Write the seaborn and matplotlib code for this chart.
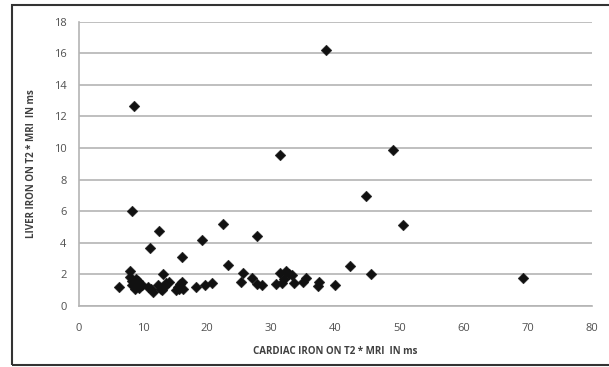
import pandas as pd
import seaborn as sns
import matplotlib
matplotlib.use('Agg')
import matplotlib.pyplot as plt
from matplotlib.patches import Rectangle

sns.set_theme(style='white')
plt.rcParams['font.family'] = ['Open Sans', 'DejaVu Sans']

cardiac = [6.3, 7.9, 8.0, 8.3, 8.6, 8.9, 9.2, 9.0, 8.2, 8.7, 9.4, 9.8, 8.3, 8.6,
           10.8, 11.2, 11.6, 11.0, 12.5, 13.1, 12.4, 12.8, 13.2, 13.6, 14.0, 13.0,
           15.1, 15.4, 15.8, 16.0, 15.6, 16.2, 16.0, 18.3, 19.2, 19.6, 20.8, 22.5,
           23.2, 25.2, 25.6, 27.0, 27.8, 27.8, 28.5, 30.7, 31.3, 31.6, 31.9, 32.3,
           32.8, 33.2, 33.6, 31.4, 35.0, 35.4, 37.2, 37.4, 38.5, 39.9, 42.2, 44.8,
           45.6, 48.9, 50.6, 69.2]
liver = [1.2, 2.2, 1.85, 1.6, 1.5, 1.7, 1.6, 1.25, 1.3, 1.1, 1.15, 1.35, 6.0, 12.65,
         1.2, 1.05, 0.9, 3.65, 4.75, 2.05, 1.35, 1.1, 1.2, 1.45, 1.55, 1.0,
         1.0, 1.2, 1.4, 1.5, 1.1, 1.05, 3.1, 1.2, 4.2, 1.3, 1.45, 5.2,
         2.6, 1.5, 2.1, 1.75, 4.4, 1.4, 1.3, 1.4, 2.1, 1.45, 1.7, 2.2,
         2.05, 1.95, 1.45, 9.55, 1.5, 1.75, 1.25, 1.5, 16.2, 1.3, 2.55, 6.95,
         2.0, 9.85, 5.1, 1.77]

df = pd.DataFrame({'cardiac': cardiac, 'liver': liver})

fig = plt.figure(figsize=(6.09, 3.67), dpi=100)
ax = fig.add_axes([0.1297, 0.1662, 0.972 - 0.1297, 0.941 - 0.1662])

grid_c = '#b4b4b4'
ax.set_axisbelow(True)
ax.yaxis.grid(True, color=grid_c, lw=1.2)
sns.scatterplot(data=df, x='cardiac', y='liver', ax=ax, marker='D', s=30,
                color='#111111', edgecolor='#111111', linewidth=0.3, zorder=3)

ax.set_xlim(0, 80)
ax.set_ylim(0, 18)
ax.set_xticks(range(0, 81, 10))
ax.set_yticks(range(0, 19, 2))
for side in ['top', 'right']:
    ax.spines[side].set_visible(False)
for side in ['left', 'bottom']:
    ax.spines[side].set_color(grid_c)
    ax.spines[side].set_linewidth(1.2)
ax.tick_params(axis='both', which='major', length=4, width=1, color=grid_c,
               labelsize=8, labelcolor='#505050', direction='out', pad=5)
ax.tick_params(axis='x', pad=8)

ax.set_xlabel('CARDIAC IRON ON T2 * MRI  IN ms', fontsize=7, fontweight='bold',
              color='#404040', labelpad=9)
ax.set_ylabel('LIVER IRON ON T2 * MRI  IN ms', fontsize=7, fontweight='bold',
              color='#404040', labelpad=12)

# outer frame, open on the right as in the cropped original
fig.patches.append(Rectangle((0.02, 0.005), 1.2, 0.981, transform=fig.transFigure,
                             fill=False, edgecolor='#333333', lw=1.5))

fig.savefig('out.png', dpi=100)
